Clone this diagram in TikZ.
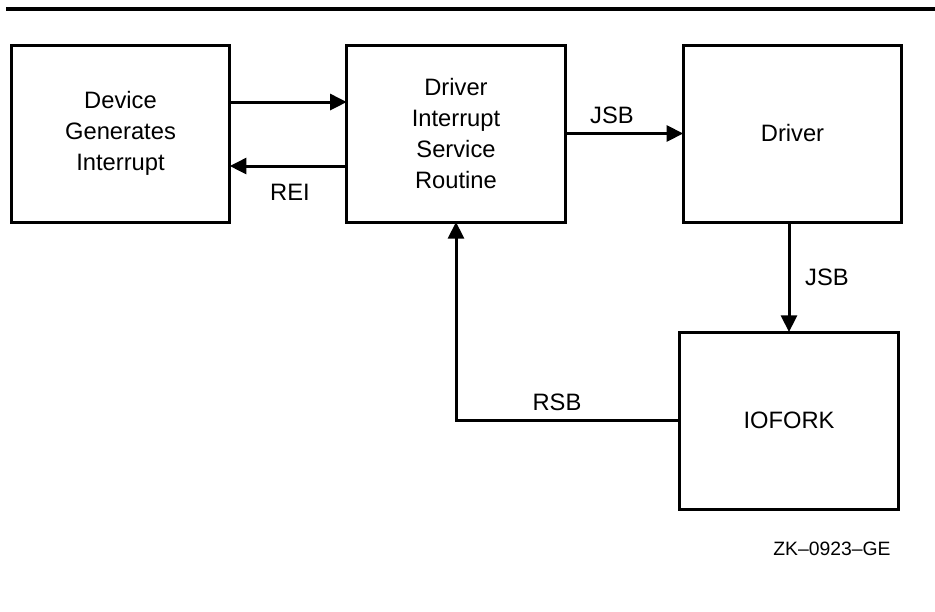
\documentclass[tikz,border=0pt]{standalone}
\usepackage{fontspec}
\setmainfont{Liberation Sans}
\usetikzlibrary{arrows.meta}
\begin{document}
\begin{tikzpicture}[x=0.75pt,y=-0.75pt,
  blk/.style={draw,line width=2.25pt,outer sep=0pt,inner sep=0pt,
    minimum width=163.9pt,minimum height=132.75pt,align=center,
    font=\fontsize{17.8}{23.2}\selectfont},
  lbl/.style={inner sep=0pt,font=\fontsize{17.8}{23.2}\selectfont},
  arr/.style={line width=2.25pt,-{Triangle[length=12.5pt,width=12pt]}}]
\useasboundingbox (0,0) rectangle (935,611);
\coordinate (rl) at (6,9);
\coordinate (rr) at (935,9);
\draw[line width=3pt] (rl) -- (rr);
\node[blk] (dev) at (120.5,133.5) {Device\\Generates\\Interrupt};
\node[blk] (isr) at (456,133.5) {Driver\\Interrupt\\Service\\Routine};
\node[blk] (drv) at (792.5,133.5) {Driver};
\node[blk] (iof) at (789,420.5) {IOFORK};
\draw[arr] ([yshift=23.6pt]dev.east) -- ([yshift=23.6pt]dev.east -| isr.west);
\draw[arr] ([yshift=-24.4pt]isr.west) -- ([yshift=-24.4pt]isr.west -| dev.east);
\draw[arr] (isr.east) -- (drv.west);
\draw[arr] (iof.north |- drv.south) -- (iof.north);
\draw[arr] (iof.west) -| (isr.south);
\node[lbl] (rei) at (290,192) {REI};
\node[lbl] (jsba) at (612,115) {JSB};
\node[lbl] (jsbb) at (827,277) {JSB};
\node[lbl] (rsb) at (557,402) {RSB};
\node[inner sep=0pt,font=\fontsize{14.5}{17}\selectfont] (zk) at (832,549) {ZK–0923–GE};
\end{tikzpicture}
\end{document}
